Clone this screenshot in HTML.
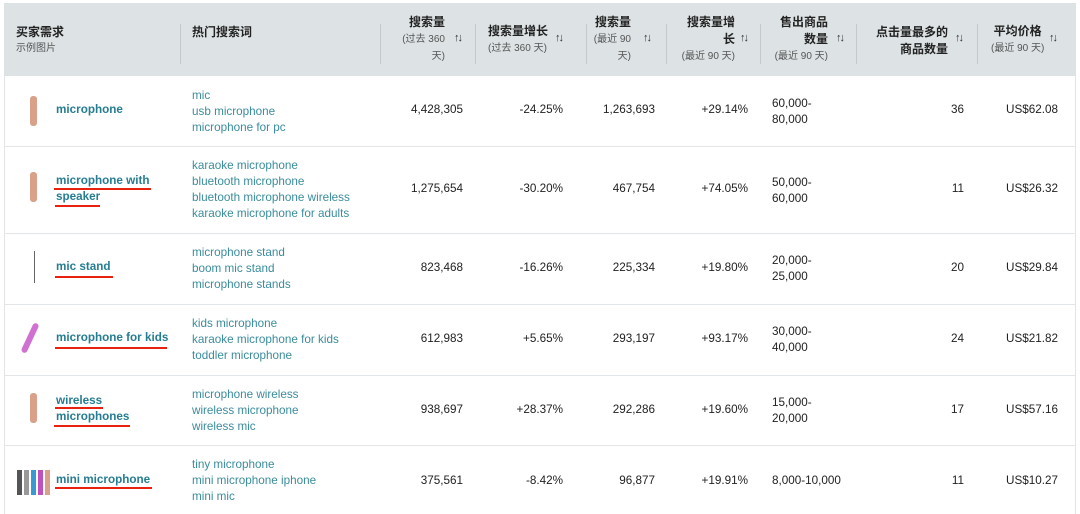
<!DOCTYPE html>
<html><head><meta charset="utf-8"><style>
*{margin:0;padding:0;box-sizing:border-box}
body{width:1080px;height:514px;background:#fff;position:relative;overflow:hidden;font-family:"Liberation Sans","Noto Sans CJK SC",sans-serif;font-size:11.7px;color:#222}
.a{position:absolute;white-space:nowrap}
.hd{position:absolute;left:4px;top:3px;width:1072px;height:73px;background:#dde2e4}
.dv{position:absolute;top:24px;width:1px;height:40px;background:#c4cacc}
.h{font-weight:bold;font-size:12px;color:#222;line-height:17px}
.s{font-size:10px;color:#555;line-height:17px}
.ar{position:absolute;font-size:11px;font-weight:bold;color:#333;letter-spacing:-2px}
.rl{position:absolute;left:4px;width:1072px;height:1px;background:#e3e6e8}
.n{font-weight:bold;color:#267d91;font-size:11.7px;line-height:16px}
.t{color:#3a8c9c;line-height:16px}
.r{text-align:right}
.u{position:absolute;height:2px;background:#e8220f}
.vl{position:absolute;left:4px;top:76px;width:1px;height:438px;background:#e3e6e8}
.vr{position:absolute;left:1075px;top:76px;width:1px;height:438px;background:#e3e6e8}
</style></head><body>
<div class="hd"></div>
<div class="vl"></div><div class="vr"></div>
<div class="dv" style="left:180px"></div><div class="dv" style="left:380px"></div><div class="dv" style="left:475px"></div><div class="dv" style="left:586px"></div><div class="dv" style="left:666px"></div><div class="dv" style="left:760px"></div><div class="dv" style="left:856px"></div><div class="dv" style="left:977px"></div>
<div class="a h" style="left:16px;top:24px">买家需求</div>
<div class="a s" style="left:16px;top:40px">示例图片</div>
<div class="a h" style="left:192px;top:24px">热门搜索词</div>
<div class="a r" style="right:635px;top:14px"><div class="h">搜索量</div><div class="s">(过去 360</div><div class="s">天)</div></div>
<div class="ar" style="left:454px;top:32px">↑↓</div>
<div class="a" style="left:488px;top:23px;text-align:left"><div class="h">搜索量增长</div><div class="s">(过去 360 天)</div></div>
<div class="ar" style="left:555px;top:32px">↑↓</div>
<div class="a r" style="right:449px;top:14px"><div class="h">搜索量</div><div class="s">(最近 90</div><div class="s">天)</div></div>
<div class="ar" style="left:643px;top:32px">↑↓</div>
<div class="a r" style="right:345px;top:14px"><div class="h">搜索量增</div><div class="h">长</div><div class="s">(最近 90 天)</div></div>
<div class="ar" style="left:740px;top:32px">↑↓</div>
<div class="a r" style="right:252px;top:14px"><div class="h">售出商品</div><div class="h">数量</div><div class="s">(最近 90 天)</div></div>
<div class="ar" style="left:836px;top:32px">↑↓</div>
<div class="a r" style="right:132px;top:24px"><div class="h">点击量最多的</div><div class="h">商品数量</div></div>
<div class="ar" style="left:955px;top:32px">↑↓</div>
<div class="a" style="left:991px;top:23px;text-align:center"><div class="h">平均价格</div><div class="s">(最近 90 天)</div></div>
<div class="ar" style="left:1049px;top:32px">↑↓</div>

<div class="rl" style="top:146px"></div><div class="rl" style="top:233px"></div><div class="rl" style="top:304px"></div><div class="rl" style="top:375px"></div><div class="rl" style="top:445px"></div>

<div class="a" style="left:30px;top:96px;width:7px;height:30px;background:#d9a08a;border-radius:3px"></div>
<div class="a" style="left:30px;top:172px;width:7px;height:30px;background:#d9a08a;border-radius:3px"></div>
<div class="a" style="left:34px;top:251px;width:1px;height:32px;background:#666"></div>
<div class="a" style="left:27px;top:322px;width:6px;height:32px;background:#d070d0;border-radius:3px;transform:rotate(25deg)"></div>
<div class="a" style="left:30px;top:393px;width:7px;height:30px;background:#d9a08a;border-radius:3px"></div>
<div class="a" style="left:17px;top:470px;width:34px;height:25px;background:linear-gradient(90deg,#555 0 5px,#fff 5px 7px,#999 7px 12px,#fff 12px 14px,#3a9ad0 14px 19px,#fff 19px 21px,#c050c0 21px 26px,#fff 26px 28px,#d9a08a 28px 33px,#fff 33px)"></div>

<div class="a n" style="left:56px;top:102px">microphone</div>
<div class="a t" style="left:192px;top:88px">mic<br>usb microphone<br>microphone for pc</div>
<div class="a r" style="right:617px;top:103px">4,428,305</div>
<div class="a r" style="right:517px;top:103px">-24.25%</div>
<div class="a r" style="right:425px;top:103px">1,263,693</div>
<div class="a r" style="right:332px;top:103px">+29.14%</div>
<div class="a" style="left:772px;top:96px;line-height:16px">60,000-<br>80,000</div>
<div class="a r" style="right:116px;top:103px">36</div>
<div class="a r" style="right:22px;top:103px">US$62.08</div>

<div class="a n" style="left:56px;top:173px">microphone with<br>speaker</div>
<div class="u" style="left:54px;top:188px;width:97px"></div><div class="u" style="left:55px;top:205px;width:45px"></div>
<div class="a t" style="left:192px;top:158px">karaoke microphone<br>bluetooth microphone<br>bluetooth microphone wireless<br>karaoke microphone for adults</div>
<div class="a r" style="right:617px;top:182px">1,275,654</div>
<div class="a r" style="right:517px;top:182px">-30.20%</div>
<div class="a r" style="right:425px;top:182px">467,754</div>
<div class="a r" style="right:332px;top:182px">+74.05%</div>
<div class="a" style="left:772px;top:175px;line-height:16px">50,000-<br>60,000</div>
<div class="a r" style="right:116px;top:182px">11</div>
<div class="a r" style="right:22px;top:182px">US$26.32</div>

<div class="a n" style="left:56px;top:259px">mic stand</div>
<div class="u" style="left:55px;top:276px;width:58px"></div>
<div class="a t" style="left:192px;top:245px">microphone stand<br>boom mic stand<br>microphone stands</div>
<div class="a r" style="right:617px;top:261px">823,468</div>
<div class="a r" style="right:517px;top:261px">-16.26%</div>
<div class="a r" style="right:425px;top:261px">225,334</div>
<div class="a r" style="right:332px;top:261px">+19.80%</div>
<div class="a" style="left:772px;top:253px;line-height:16px">20,000-<br>25,000</div>
<div class="a r" style="right:116px;top:261px">20</div>
<div class="a r" style="right:22px;top:261px">US$29.84</div>

<div class="a n" style="left:56px;top:330px">microphone for kids</div>
<div class="u" style="left:55px;top:347px;width:112px"></div>
<div class="a t" style="left:192px;top:316px">kids microphone<br>karaoke microphone for kids<br>toddler microphone</div>
<div class="a r" style="right:617px;top:332px">612,983</div>
<div class="a r" style="right:517px;top:332px">+5.65%</div>
<div class="a r" style="right:425px;top:332px">293,197</div>
<div class="a r" style="right:332px;top:332px">+93.17%</div>
<div class="a" style="left:772px;top:324px;line-height:16px">30,000-<br>40,000</div>
<div class="a r" style="right:116px;top:332px">24</div>
<div class="a r" style="right:22px;top:332px">US$21.82</div>

<div class="a n" style="left:56px;top:393px">wireless<br>microphones</div>
<div class="u" style="left:55px;top:407px;width:48px"></div><div class="u" style="left:54px;top:425px;width:76px"></div>
<div class="a t" style="left:192px;top:387px">microphone wireless<br>wireless microphone<br>wireless mic</div>
<div class="a r" style="right:617px;top:403px">938,697</div>
<div class="a r" style="right:517px;top:403px">+28.37%</div>
<div class="a r" style="right:425px;top:403px">292,286</div>
<div class="a r" style="right:332px;top:403px">+19.60%</div>
<div class="a" style="left:772px;top:395px;line-height:16px">15,000-<br>20,000</div>
<div class="a r" style="right:116px;top:403px">17</div>
<div class="a r" style="right:22px;top:403px">US$57.16</div>

<div class="a n" style="left:56px;top:472px">mini microphone</div>
<div class="u" style="left:55px;top:487px;width:97px"></div>
<div class="a t" style="left:192px;top:457px">tiny microphone<br>mini microphone iphone<br>mini mic</div>
<div class="a r" style="right:617px;top:474px">375,561</div>
<div class="a r" style="right:517px;top:474px">-8.42%</div>
<div class="a r" style="right:425px;top:474px">96,877</div>
<div class="a r" style="right:332px;top:474px">+19.91%</div>
<div class="a" style="left:772px;top:474px">8,000-10,000</div>
<div class="a r" style="right:116px;top:474px">11</div>
<div class="a r" style="right:22px;top:474px">US$10.27</div>
</body></html>
